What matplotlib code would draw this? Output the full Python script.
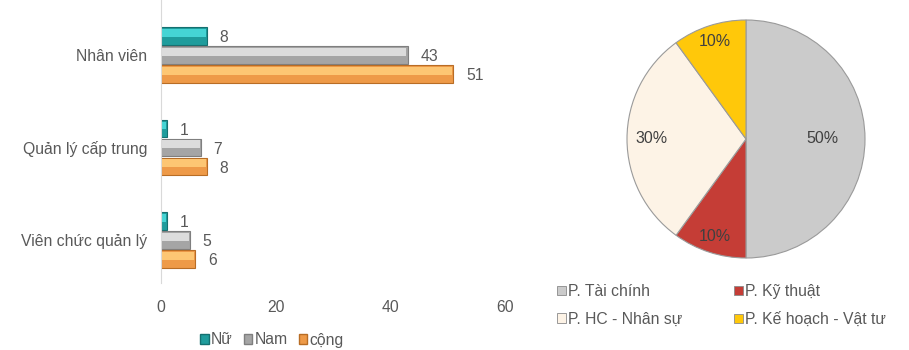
import numpy as np
import matplotlib.pyplot as plt
from matplotlib.patches import Patch

plt.rcParams['font.family'] = ['Liberation Sans', 'DejaVu Sans']

groups = ['Nhân viên', 'Quản lý cấp trung', 'Viên chức quản lý']
series = ['Nữ', 'Nam', 'cộng']
nu = [8, 1, 1]
nam = [43, 7, 5]
cong = [51, 8, 6]

departments = ['P. Tài chính', 'P. Kỹ thuật', 'P. HC - Nhân sự', 'P. Kế hoạch - Vật tư']
shares = [50, 10, 30, 10]

text_col = '#595959'
bar_main = ['#1f9c9c', '#a5a5a5', '#ee9a48']
bar_light = ['#45d4d4', '#dcdcdc', '#fdc673']
bar_edge = ['#147070', '#7f7f7f', '#b86d25']
pie_cols = ['#cbcbcb', '#c53d36', '#fdf3e6', '#ffc80a']
fs = 11.3

fig = plt.figure(figsize=(9.09, 3.5), dpi=100)

# --- horizontal bar chart ---
ax = fig.add_axes([161 / 909, 1 - 283 / 350, (505 - 161) / 909, 283 / 350])
y = np.arange(len(groups))
h = 0.188
step = 0.205
for k, vals in enumerate([nu, nam, cong]):
    pos = y + (k - 1) * step
    ax.barh(pos, vals, height=h, color=bar_main[k], edgecolor=bar_edge[k], linewidth=0.8)
    # bevel highlight along the top of each bar
    ax.barh(pos - h * 0.18, np.array(vals) - 0.35, height=h * 0.45,
            color=bar_light[k], linewidth=0, left=0.15)
    for p, v in zip(pos, vals):
        ax.text(v + 2.2, p + 0.02, str(v), va='center', ha='left',
                fontsize=fs, color=text_col)

ax.set_xlim(0, 60)
ax.set_ylim(2.465, -0.595)
ax.set_xticks([0, 20, 40, 60])
ax.set_yticks(y)
ax.set_yticklabels(groups)
ax.tick_params(length=0, labelsize=fs, labelcolor=text_col)
ax.tick_params(axis='x', pad=12)
ax.tick_params(axis='y', pad=10)
for s in ['top', 'right', 'bottom']:
    ax.spines[s].set_visible(False)
ax.spines['left'].set_color('#d9d9d9')

handles = [Patch(facecolor=bar_main[k], edgecolor=bar_edge[k]) for k in range(3)]
fig.legend(handles, series, loc='center', bbox_to_anchor=(272 / 909, 1 - 340 / 350),
           ncol=3, frameon=False, fontsize=fs, labelcolor=text_col,
           handlelength=0.55, handleheight=0.55, handletextpad=0.15, columnspacing=0.7)

# --- pie chart ---
r_px = 119
cx, cy = 746, 139
pax = fig.add_axes([(cx - r_px) / 909, 1 - (cy + r_px) / 350, 2 * r_px / 909, 2 * r_px / 350])
wedges, _ = pax.pie(shares, colors=pie_cols, startangle=90, counterclock=False,
                    wedgeprops=dict(edgecolor='#9a9a9a', linewidth=0.8))
pax.set_aspect('auto')
pax.set_xlim(-1, 1)
pax.set_ylim(-1, 1)

label_dist = [0.64, 0.86, 0.79, 0.86]
total = sum(shares)
start = 90.0
for val, d in zip(shares, label_dist):
    mid = np.deg2rad(start - val / total * 180)
    start -= val / total * 360
    pax.text(d * np.cos(mid), d * np.sin(mid), f'{val / total:.0%}',
             ha='center', va='center', fontsize=11.5, color='#404040')

# two-column legend filled row by row
order = [0, 2, 1, 3]
pie_handles = [Patch(facecolor=pie_cols[i], edgecolor='#8a8a8a', linewidth=0.6) for i in order]
fig.legend(pie_handles, [departments[i] for i in order], loc='upper left',
           bbox_to_anchor=(543 / 909, 1 - 270 / 350),
           ncol=2, frameon=False, fontsize=fs, labelcolor=text_col,
           handlelength=0.55, handleheight=0.55, handletextpad=0.15, columnspacing=3.3,
           labelspacing=0.8)

fig.savefig('out.png', dpi=100)
